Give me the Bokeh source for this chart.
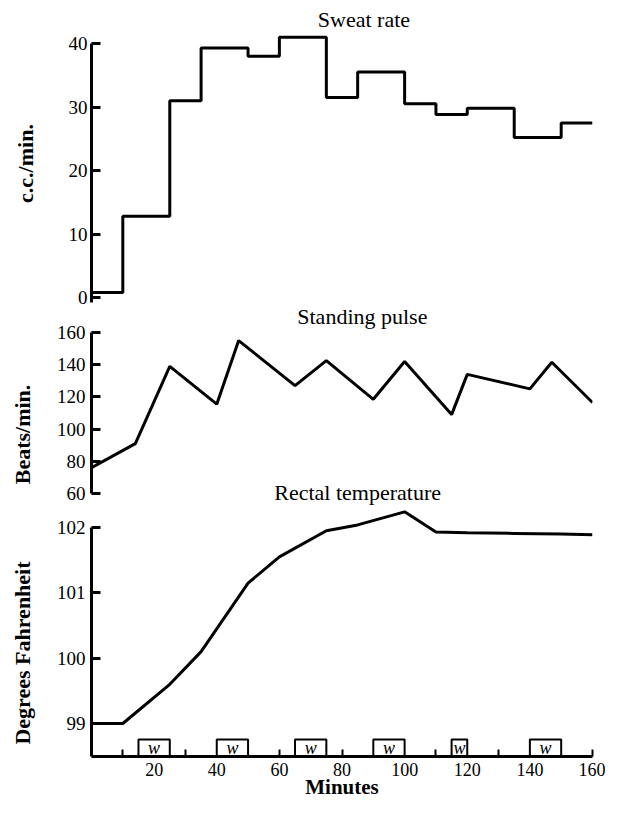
from bokeh.plotting import figure
from bokeh.layouts import column
from bokeh.models import Range1d, FixedTicker, Label, ColumnDataSource
from bokeh.embed import file_html
from bokeh.resources import INLINE

# ---------------- data ----------------
sweat_start = [0, 10, 25, 35, 50, 60, 75, 85, 100, 110, 120, 135, 150]
sweat_end = 160
sweat_rate = [0.8, 12.8, 31.0, 39.3, 38.0, 41.0, 31.5, 35.5, 30.5, 28.8, 29.8, 25.2, 27.5]

pulse_min = [0, 14, 25, 40, 47, 65, 75, 90, 100, 115, 120, 140, 147, 160]
pulse_bpm = [76, 91, 139, 115.5, 155, 127, 142.5, 118.5, 142, 109, 134, 125, 141.5, 116.5]

temp_min = [0, 10, 25, 35, 50, 60, 75, 85, 100, 110, 120, 135, 150, 160]
temp_f = [99.0, 99.0, 99.6, 100.1, 101.15, 101.55, 101.95, 102.04, 102.24,
          101.93, 101.92, 101.91, 101.9, 101.89]

walk_start = [15, 40, 65, 90, 115, 140]
walk_end = [25, 50, 75, 100, 120, 150]
walk_text = ["w", "w", "w", "w", "w", "w"]

sweat_ticks = [0, 10, 20, 30, 40]
pulse_ticks = [60, 80, 100, 120, 140, 160]
temp_ticks = [99, 100, 101, 102]
minute_labels = [20, 40, 60, 80, 100, 120, 140, 160]
minute_marks = [10, 30, 60, 80, 110, 130, 160]

FONT = "Liberation Serif"
W = 605
NB = "\u00a0"


def style_yaxis(p, ticks, bounds, label, standoff, label_standoff):
    ax = p.yaxis[0]
    ax.ticker = FixedTicker(ticks=ticks)
    ax.bounds = bounds
    ax.axis_line_width = 3
    ax.axis_line_color = "black"
    ax.major_tick_in = 9
    ax.major_tick_out = 0
    ax.major_tick_line_width = 3
    ax.major_tick_line_color = "black"
    ax.minor_tick_line_color = None
    ax.major_label_standoff = standoff
    ax.major_label_text_font = FONT
    ax.major_label_text_font_size = "19px"
    ax.major_label_text_color = "black"
    ax.axis_label = label
    ax.axis_label_standoff = label_standoff
    ax.axis_label_text_font = FONT
    ax.axis_label_text_font_size = "22px"
    ax.axis_label_text_font_style = "bold"
    ax.axis_label_text_color = "black"


def base(p):
    p.outline_line_color = None
    p.xgrid.visible = False
    p.ygrid.visible = False
    p.background_fill_color = None
    p.border_fill_color = None


def title_label(p, x, y, text):
    p.add_layout(Label(x=x, y=y, text=text, text_align="center",
                       text_baseline="middle", text_font=FONT,
                       text_font_size="22px", text_color="black"))


# ---------------- sweat rate ----------------
p1 = figure(width=W, height=326, x_range=Range1d(0, 160), y_range=Range1d(-4.567, 46.772),
            output_backend="svg", toolbar_location=None, x_axis_location=None,
            min_border_left=91, min_border_right=2, min_border_top=0, min_border_bottom=0)
base(p1)
style_yaxis(p1, sweat_ticks, (-0.8, 40), "c.c./min.", 4, 28)
p1.step(x=sweat_start + [sweat_end], y=sweat_rate + [sweat_rate[-1]], mode="after",
        line_width=3, line_color="black")
title_label(p1, 87, 43.78, "Sweat rate")

# ---------------- standing pulse ----------------
p2 = figure(width=W, height=268, x_range=Range1d(0, 160), y_range=Range1d(13.416, 179.876),
            output_backend="svg", toolbar_location=None, x_axis_location=None,
            min_border_left=88, min_border_right=5, min_border_top=0, min_border_bottom=0,
            margin=(-26, 0, 0, 0))
base(p2)
style_yaxis(p2, pulse_ticks, (60, 160), "Beats/min.", 6, 19)
p2.line(pulse_min, pulse_bpm, line_width=3, line_color="black")
title_label(p2, 86.5, 169.94, "Standing pulse")
title_label(p2, 85, 60.62, "Rectal temperature")

# ---------------- rectal temperature ----------------
y0 = 98.495
p3 = figure(width=W, height=297, x_range=Range1d(0, 160), y_range=Range1d(y0, 102.337),
            output_backend="svg", toolbar_location=None,
            min_border_left=85, min_border_right=13, min_border_top=0, min_border_bottom=46,
            margin=(-63, 0, 0, 0))
base(p3)
style_yaxis(p3, temp_ticks, (y0, 102), "Degrees Fahrenheit" + NB * 8, 6, 19)
xa = p3.xaxis[0]
xa.ticker = FixedTicker(ticks=minute_labels, minor_ticks=minute_marks)
xa.bounds = (0, 160)
xa.axis_line_width = 3
xa.axis_line_color = "black"
xa.major_tick_in = 0
xa.major_tick_out = 0
xa.minor_tick_in = 7
xa.minor_tick_out = 0
xa.minor_tick_line_width = 2
xa.minor_tick_line_color = "black"
xa.major_label_standoff = 6
xa.major_label_text_font = FONT
xa.major_label_text_font_size = "18px"
xa.major_label_text_color = "black"
xa.axis_label = "Minutes"
xa.axis_label_standoff = -4
xa.axis_label_text_font = FONT
xa.axis_label_text_font_size = "21px"
xa.axis_label_text_font_style = "bold"
xa.axis_label_text_color = "black"

p3.line(temp_min, temp_f, line_width=3, line_color="black")

box_h = 17 / 65.33
src = ColumnDataSource(dict(
    left=walk_start, right=walk_end,
    bottom=[y0] * len(walk_start), top=[y0 + box_h] * len(walk_start),
    xc=[(a + b) / 2 for a, b in zip(walk_start, walk_end)],
    yc=[y0 + box_h / 2] * len(walk_start),
    t=walk_text))
p3.quad(left="left", right="right", bottom="bottom", top="top", source=src,
        fill_color="white", line_color="black", line_width=2)
p3.text(x="xc", y="yc", text="t", source=src, text_align="center",
        text_baseline="middle", text_font={"value": FONT}, text_font_style="italic",
        text_font_size={"value": "18px"}, text_color="black")

layout = column(p1, p2, p3, spacing=0)
open("out.html", "w").write(file_html(layout, INLINE))
